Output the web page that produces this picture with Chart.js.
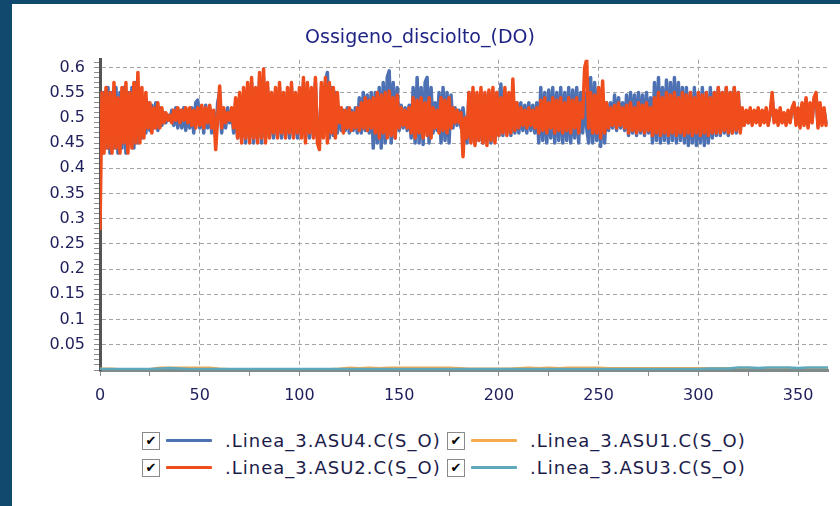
<!DOCTYPE html>
<html lang="it">
<head>
<meta charset="utf-8">
<title>Ossigeno_disciolto_(DO)</title>
<script src="https://cdn.jsdelivr.net/npm/chart.js@4.4.1/dist/chart.umd.min.js"></script>
<style>
  html, body {
    margin: 0;
    padding: 0;
    width: 840px;
    height: 506px;
    overflow: hidden;
    background: #0f4a6e;
    font-family: 'DejaVu Sans', sans-serif;
  }
  #pannello {
    position: absolute;
    left: 12px;
    top: 4px;
    width: 828px;
    height: 502px;
    background: #ffffff;
  }
  #grafico {
    position: absolute;
    left: 0;
    top: 0;
  }
  #legenda {
    position: absolute;
    left: 130px;
    top: 423px;
    display: grid;
    grid-template-columns: 305px auto;
    grid-auto-rows: 27px;
  }
  .voce {
    display: flex;
    align-items: center;
    white-space: nowrap;
  }
  .spunta {
    box-sizing: border-box;
    width: 18px;
    height: 18px;
    border: 1px solid #8a8a8a;
    background: #fff;
    font-size: 13px;
    line-height: 16px;
    text-align: center;
    color: #000;
    font-weight: bold;
  }
  .campione {
    width: 46px;
    height: 3px;
    margin-left: 6px;
    margin-right: 13px;
    border-radius: 1px;
  }
  .testo {
    font-size: 18px;
    letter-spacing: 1px;
    color: #1c1c4a;
  }
</style>
</head>
<body>
<div id="pannello">
  <canvas id="grafico" width="828" height="410"></canvas>
  <div id="legenda"></div>
</div>
<script>
'use strict';

// giorni 0..364, un campione al giorno
const asu2 = [
  0.28, 0.55, 0.43, 0.56, 0.44, 0.55, 0.43, 0.57, 0.44, 0.54,
  0.43, 0.56, 0.45, 0.57, 0.43, 0.55, 0.44, 0.57, 0.45, 0.59,
  0.45, 0.56, 0.46, 0.55, 0.48, 0.53, 0.47, 0.52, 0.48, 0.53,
  0.48, 0.52, 0.49, 0.51, 0.495, 0.505, 0.49, 0.515, 0.495, 0.52,
  0.49, 0.515, 0.495, 0.52, 0.49, 0.52, 0.485, 0.515, 0.48, 0.52,
  0.485, 0.525, 0.48, 0.52, 0.49, 0.525, 0.48, 0.515, 0.437, 0.50,
  0.563, 0.48, 0.52, 0.49, 0.51, 0.495, 0.52, 0.48, 0.54, 0.46,
  0.55, 0.45, 0.56, 0.46, 0.57, 0.45, 0.58, 0.46, 0.56, 0.45,
  0.59, 0.46, 0.597, 0.45, 0.57, 0.46, 0.55, 0.47, 0.56, 0.46,
  0.57, 0.47, 0.55, 0.46, 0.56, 0.47, 0.57, 0.46, 0.55, 0.47,
  0.56, 0.46, 0.58, 0.45, 0.57, 0.47, 0.56, 0.46, 0.58, 0.45,
  0.437, 0.57, 0.46, 0.58, 0.45, 0.57, 0.47, 0.56, 0.46, 0.55,
  0.49, 0.52, 0.47, 0.515, 0.48, 0.52, 0.475, 0.51, 0.48, 0.52,
  0.475, 0.53, 0.48, 0.54, 0.475, 0.535, 0.48, 0.54, 0.47, 0.55,
  0.46, 0.545, 0.47, 0.55, 0.46, 0.553, 0.465, 0.54, 0.46, 0.545,
  0.48, 0.52, 0.485, 0.515, 0.48, 0.52, 0.47, 0.54, 0.46, 0.535,
  0.47, 0.54, 0.46, 0.53, 0.465, 0.54, 0.46, 0.52, 0.48, 0.515,
  0.47, 0.54, 0.475, 0.535, 0.47, 0.54, 0.48, 0.52, 0.49, 0.515,
  0.49, 0.51, 0.423, 0.50, 0.46, 0.55, 0.45, 0.56, 0.445, 0.55,
  0.455, 0.56, 0.45, 0.55, 0.445, 0.555, 0.455, 0.56, 0.45, 0.55,
  0.465, 0.54, 0.47, 0.56, 0.465, 0.55, 0.47, 0.577, 0.475, 0.53,
  0.48, 0.52, 0.485, 0.515, 0.48, 0.52, 0.485, 0.515, 0.48, 0.52,
  0.47, 0.535, 0.475, 0.54, 0.47, 0.53, 0.48, 0.54, 0.47, 0.535,
  0.475, 0.54, 0.47, 0.53, 0.475, 0.54, 0.47, 0.535, 0.48, 0.54,
  0.47, 0.53, 0.50, 0.60, 0.615, 0.48, 0.55, 0.47, 0.545, 0.47,
  0.56, 0.46, 0.573, 0.47, 0.53, 0.48, 0.52, 0.485, 0.525, 0.48,
  0.53, 0.485, 0.52, 0.48, 0.525, 0.47, 0.53, 0.475, 0.52, 0.47,
  0.53, 0.475, 0.525, 0.47, 0.53, 0.475, 0.52, 0.465, 0.54, 0.47,
  0.55, 0.465, 0.54, 0.47, 0.55, 0.465, 0.545, 0.47, 0.55, 0.465,
  0.54, 0.47, 0.55, 0.465, 0.545, 0.47, 0.55, 0.465, 0.54, 0.47,
  0.55, 0.465, 0.545, 0.47, 0.55, 0.465, 0.54, 0.47, 0.55, 0.47,
  0.56, 0.47, 0.55, 0.475, 0.56, 0.47, 0.55, 0.47, 0.56, 0.475,
  0.55, 0.47, 0.52, 0.485, 0.515, 0.49, 0.52, 0.485, 0.515, 0.49,
  0.52, 0.485, 0.515, 0.49, 0.52, 0.485, 0.51, 0.55, 0.49, 0.515,
  0.485, 0.52, 0.49, 0.51, 0.485, 0.515, 0.49, 0.52, 0.53, 0.485,
  0.52, 0.48, 0.53, 0.485, 0.54, 0.48, 0.53, 0.49, 0.54, 0.55,
  0.48, 0.53, 0.485, 0.52, 0.485
];

const asu4 = [
  0.545, 0.43, 0.55, 0.44, 0.56, 0.43, 0.55, 0.44, 0.56, 0.43,
  0.55, 0.44, 0.56, 0.43, 0.55, 0.45, 0.56, 0.44, 0.57, 0.45,
  0.55, 0.46, 0.54, 0.47, 0.53, 0.475, 0.525, 0.48, 0.53, 0.475,
  0.52, 0.485, 0.51, 0.49, 0.505, 0.495, 0.515, 0.485, 0.52, 0.48,
  0.515, 0.48, 0.52, 0.475, 0.515, 0.48, 0.52, 0.47, 0.53, 0.535,
  0.48, 0.52, 0.47, 0.525, 0.48, 0.52, 0.47, 0.51, 0.46, 0.53,
  0.55, 0.47, 0.515, 0.48, 0.52, 0.49, 0.515, 0.47, 0.53, 0.46,
  0.54, 0.46, 0.55, 0.45, 0.56, 0.46, 0.57, 0.45, 0.55, 0.46,
  0.58, 0.45, 0.58, 0.46, 0.56, 0.465, 0.54, 0.46, 0.55, 0.465,
  0.56, 0.46, 0.54, 0.465, 0.55, 0.46, 0.56, 0.465, 0.54, 0.46,
  0.55, 0.465, 0.57, 0.46, 0.56, 0.46, 0.55, 0.465, 0.57, 0.46,
  0.45, 0.56, 0.465, 0.57, 0.59, 0.46, 0.56, 0.465, 0.55, 0.47,
  0.52, 0.475, 0.515, 0.475, 0.52, 0.47, 0.515, 0.475, 0.52, 0.47,
  0.54, 0.47, 0.55, 0.475, 0.545, 0.47, 0.55, 0.44, 0.55, 0.45,
  0.56, 0.44, 0.57, 0.45, 0.58, 0.593, 0.45, 0.57, 0.46, 0.56,
  0.475, 0.525, 0.48, 0.52, 0.475, 0.525, 0.46, 0.56, 0.45, 0.58,
  0.45, 0.56, 0.447, 0.57, 0.58, 0.45, 0.56, 0.47, 0.53, 0.475,
  0.55, 0.45, 0.56, 0.455, 0.55, 0.45, 0.545, 0.48, 0.52, 0.485,
  0.515, 0.48, 0.52, 0.485, 0.45, 0.55, 0.455, 0.55, 0.45, 0.545,
  0.455, 0.55, 0.45, 0.545, 0.455, 0.55, 0.45, 0.545, 0.455, 0.55,
  0.465, 0.567, 0.465, 0.55, 0.47, 0.545, 0.465, 0.55, 0.47, 0.53,
  0.47, 0.53, 0.475, 0.525, 0.47, 0.53, 0.475, 0.525, 0.47, 0.53,
  0.45, 0.56, 0.455, 0.55, 0.45, 0.555, 0.46, 0.56, 0.45, 0.55,
  0.455, 0.56, 0.45, 0.55, 0.455, 0.56, 0.45, 0.555, 0.46, 0.56,
  0.45, 0.55, 0.47, 0.55, 0.48, 0.45, 0.58, 0.45, 0.57, 0.455,
  0.56, 0.443, 0.55, 0.45, 0.53, 0.475, 0.53, 0.48, 0.545, 0.475,
  0.54, 0.48, 0.53, 0.475, 0.545, 0.465, 0.55, 0.47, 0.545, 0.465,
  0.55, 0.47, 0.545, 0.465, 0.55, 0.47, 0.54, 0.45, 0.57, 0.455,
  0.58, 0.45, 0.56, 0.455, 0.575, 0.45, 0.57, 0.455, 0.58, 0.45,
  0.57, 0.455, 0.56, 0.45, 0.56, 0.445, 0.55, 0.45, 0.56, 0.445,
  0.55, 0.45, 0.56, 0.445, 0.55, 0.45, 0.56, 0.46, 0.55, 0.465,
  0.56, 0.465, 0.55, 0.47, 0.56, 0.465, 0.55, 0.47, 0.56, 0.47,
  0.55, 0.475, 0.515, 0.49, 0.51, 0.49, 0.515, 0.49, 0.51, 0.495,
  0.515, 0.49, 0.51, 0.495, 0.515, 0.49, 0.505, 0.54, 0.495, 0.51,
  0.49, 0.515, 0.495, 0.505, 0.49, 0.51, 0.495, 0.515, 0.525, 0.49,
  0.515, 0.485, 0.525, 0.49, 0.535, 0.485, 0.525, 0.495, 0.535, 0.545,
  0.485, 0.525, 0.49, 0.515, 0.49
];

// le due linee vicine allo zero, lette ogni 5 giorni
const giorniRadi = [
  0, 5, 10, 15, 20, 25, 30, 35, 40, 45, 50, 55, 60, 65, 70, 75, 80, 85, 90, 95,
  100, 105, 110, 115, 120, 125, 130, 135, 140, 145, 150, 155, 160, 165, 170, 175,
  180, 185, 190, 195, 200, 205, 210, 215, 220, 225, 230, 235, 240, 245, 250, 255,
  260, 265, 270, 275, 280, 285, 290, 295, 300, 305, 310, 315, 320, 325, 330, 335,
  340, 345, 350, 355, 360, 365
];

const asu1 = [
  0.003, 0.003, 0.002, 0.002, 0.002, 0.002, 0.005, 0.005, 0.005, 0.005,
  0.005, 0.005, 0.003, 0.002, 0.002, 0.002, 0.002, 0.002, 0.002, 0.002,
  0.002, 0.002, 0.002, 0.002, 0.003, 0.005, 0.004, 0.005, 0.004, 0.005,
  0.005, 0.005, 0.005, 0.005, 0.005, 0.005, 0.004, 0.003, 0.003, 0.003,
  0.003, 0.003, 0.004, 0.005, 0.004, 0.005, 0.004, 0.005, 0.005, 0.005,
  0.005, 0.004, 0.004, 0.004, 0.004, 0.004, 0.004, 0.004, 0.004, 0.004,
  0.004, 0.004, 0.004, 0.004, 0.004, 0.004, 0.004, 0.004, 0.004, 0.004,
  0.004, 0.004, 0.004, 0.004
];

const asu3 = [
  0.002, 0.002, 0.002, 0.002, 0.002, 0.002, 0.003, 0.004, 0.003, 0.002,
  0.002, 0.002, 0.002, 0.002, 0.002, 0.002, 0.002, 0.002, 0.002, 0.002,
  0.002, 0.002, 0.002, 0.002, 0.002, 0.002, 0.002, 0.002, 0.002, 0.002,
  0.002, 0.002, 0.002, 0.002, 0.002, 0.002, 0.002, 0.002, 0.002, 0.002,
  0.002, 0.002, 0.002, 0.002, 0.002, 0.002, 0.002, 0.002, 0.002, 0.002,
  0.002, 0.002, 0.002, 0.002, 0.002, 0.002, 0.002, 0.002, 0.002, 0.002,
  0.002, 0.003, 0.003, 0.003, 0.005, 0.005, 0.004, 0.005, 0.005, 0.005,
  0.004, 0.005, 0.005, 0.005
];

const nomiSerie = [
  '.Linea_3.ASU4.C(S_O)',
  '.Linea_3.ASU1.C(S_O)',
  '.Linea_3.ASU2.C(S_O)',
  '.Linea_3.ASU3.C(S_O)'
];
const coloriSerie = ['#4d71b3', '#f7a94e', '#f04d1c', '#5ea8bb'];

const etichetteY = [0.05, 0.1, 0.15, 0.2, 0.25, 0.3, 0.35, 0.4, 0.45, 0.5, 0.55, 0.6];
const etichetteX = [0, 50, 100, 150, 200, 250, 300, 350];

const COLORE_TESTO = '#1e1e5a';
const COLORE_GRIGLIA = '#a4a4a4';

function puntiGiornalieri(valori) {
  return valori.map((v, giorno) => ({ x: giorno, y: v }));
}

function puntiRadi(valori) {
  return valori.map((v, i) => ({ x: giorniRadi[i], y: v }));
}

function isMaggioreY(v) {
  const c = Math.round(v * 100);
  return etichetteY.some(e => Math.round(e * 100) === c);
}

function isMaggioreX(v) {
  return etichetteX.includes(v);
}

const dataset = (nome, colore, punti, spessore, ordine) => ({
  label: nome,
  data: punti,
  borderColor: colore,
  backgroundColor: colore,
  borderWidth: spessore,
  borderJoinStyle: 'round',
  borderCapStyle: 'round',
  pointRadius: 0,
  tension: 0,
  order: ordine
});

const grafico = new Chart(document.getElementById('grafico').getContext('2d'), {
  type: 'line',
  data: {
    datasets: [
      dataset(nomiSerie[3], coloriSerie[3], puntiRadi(asu3), 2.5, 1),
      dataset(nomiSerie[1], coloriSerie[1], puntiRadi(asu1), 2, 2),
      dataset(nomiSerie[2], coloriSerie[2], puntiGiornalieri(asu2), 3.5, 3),
      dataset(nomiSerie[0], coloriSerie[0], puntiGiornalieri(asu4), 3.5, 4)
    ]
  },
  options: {
    responsive: false,
    animation: false,
    events: [],
    layout: {
      padding: { left: 0, right: 12, top: 0, bottom: 0 }
    },
    plugins: {
      legend: { display: false },
      tooltip: { enabled: false },
      title: {
        display: true,
        text: 'Ossigeno_disciolto_(DO)',
        color: '#1f2484',
        font: { family: 'DejaVu Sans', size: 19, weight: 'normal' },
        padding: { top: 23, bottom: 10 }
      }
    },
    scales: {
      x: {
        type: 'linear',
        min: 0,
        max: 365,
        ticks: {
          stepSize: 25,
          includeBounds: false,
          autoSkip: false,
          maxRotation: 0,
          padding: 10,
          color: COLORE_TESTO,
          font: { family: 'DejaVu Sans', size: 16 },
          callback: v => (isMaggioreX(v) ? String(v) : '')
        },
        grid: {
          color: ctx => (ctx.tick && isMaggioreX(ctx.tick.value) ? COLORE_GRIGLIA : 'rgba(0,0,0,0)'),
          tickColor: '#8c8c8c',
          tickLength: 6,
          lineWidth: 1
        },
        border: { display: true, color: '#7f8a8a', width: 3, dash: [4, 3] },
        afterFit: scala => { scala.height = 44; }
      },
      y: {
        type: 'linear',
        min: 0,
        max: 0.615,
        ticks: {
          stepSize: 0.01,
          includeBounds: false,
          maxTicksLimit: 100,
          autoSkip: false,
          padding: 9,
          color: COLORE_TESTO,
          font: { family: 'DejaVu Sans', size: 16 },
          callback: v => (isMaggioreY(v) ? String(Math.round(v * 100) / 100) : '')
        },
        grid: {
          color: ctx => (ctx.tick && isMaggioreY(ctx.tick.value) ? COLORE_GRIGLIA : 'rgba(0,0,0,0)'),
          tickColor: '#8c8c8c',
          tickLength: 6,
          lineWidth: 1
        },
        border: { display: true, color: '#555555', width: 3, dash: [4, 3] },
        afterFit: scala => { scala.width = 88; }
      }
    }
  }
});

// legenda con caselle di spunta, come nel programma d'origine
const legenda = document.getElementById('legenda');
nomiSerie.forEach((nome, i) => {
  const voce = document.createElement('div');
  voce.className = 'voce';
  voce.innerHTML =
    '<span class="spunta">\u2714</span>' +
    '<span class="campione" style="background:' + coloriSerie[i] + '"></span>' +
    '<span class="testo"></span>';
  voce.querySelector('.testo').textContent = nome;
  legenda.appendChild(voce);
});
</script>
</body>
</html>
